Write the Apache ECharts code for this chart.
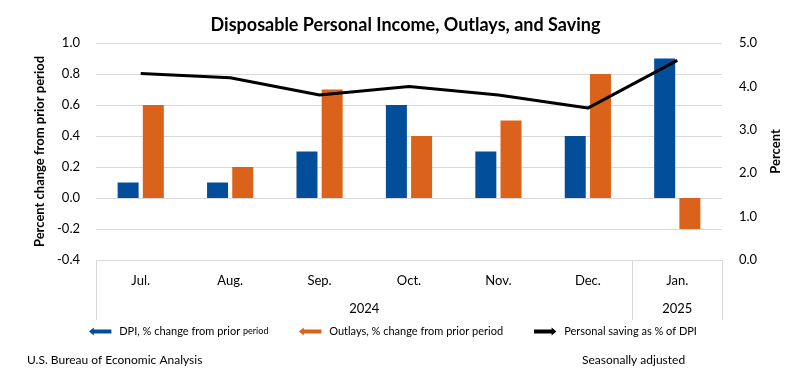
<!DOCTYPE html>
<html><head><meta charset="utf-8">
<script src="https://cdn.jsdelivr.net/npm/echarts@6/dist/echarts.min.js"></script>
<style>html,body{margin:0;padding:0;background:#fff}#c{width:811px;height:390px}</style>
</head><body><div id="c"></div>
<script>
var months = ['Jul.', 'Aug.', 'Sep.', 'Oct.', 'Nov.', 'Dec.', 'Jan.'];
var dpi = [0.1, 0.1, 0.3, 0.6, 0.3, 0.4, 0.9];
var outlays = [0.6, 0.2, 0.7, 0.4, 0.5, 0.8, -0.2];
var saving = [4.3, 4.2, 3.8, 4.0, 3.8, 3.5, 4.6];
var years = [{pos: 3, label: '2024'}, {pos: 6.5, label: '2025'}];
var yearBounds = [0, 6, 7];

var FONT = 'Lato';
var BLUE = '#034E9B', ORANGE = '#DB621B';
var leftArrow = 'path://M0,5 L6,0 L6,2.5 L28,2.5 L28,7.5 L6,7.5 L6,10 Z';
var rightArrow = 'path://M28,5 L22,0 L22,2.5 L0,2.5 L0,7.5 L22,7.5 L22,10 Z';

var chart = echarts.init(document.getElementById('c'));
var yearMap = {};
years.forEach(function (y) { yearMap[y.pos] = y.label; });

chart.setOption({
  animation: false,
  textStyle: {fontFamily: FONT},
  title: [
    {text: 'Disposable Personal Income, Outlays, and Saving', left: 'center', top: 11,
     textStyle: {fontFamily: FONT, fontSize: 18, fontWeight: 'bold', color: '#000'}},
    {text: 'U.S. Bureau of Economic Analysis', left: 22, top: 349,
     textStyle: {fontFamily: FONT, fontSize: 12, fontWeight: 'normal', color: '#000'}},
    {text: 'Seasonally adjusted', left: 577, top: 349,
     textStyle: {fontFamily: FONT, fontSize: 12, fontWeight: 'normal', color: '#000'}}
  ],
  legend: [
    {data: [{name: 'DPI', icon: leftArrow}], left: 84, top: 321, itemWidth: 28, itemHeight: 8, itemGap: 4,
     formatter: function () { return '{a|DPI, % change from prior }{b|period}'; },
     textStyle: {rich: {a: {fontSize: 11, fontFamily: FONT, color: '#000'}, b: {fontSize: 9, fontFamily: FONT, color: '#000'}}}},
    {data: [{name: 'Outlays', icon: leftArrow}], left: 294, top: 321, itemWidth: 28, itemHeight: 8,
     formatter: function () { return 'Outlays, % change from prior period'; },
     textStyle: {fontSize: 11, fontFamily: FONT, color: '#000'}},
    {data: [{name: 'Saving', icon: rightArrow}], left: 529, top: 321, itemWidth: 28, itemHeight: 8,
     formatter: function () { return 'Personal saving as % of DPI'; },
     textStyle: {fontSize: 11, fontFamily: FONT, color: '#000'}}
  ],
  grid: {left: 96, right: 89, top: 43, bottom: 130, containLabel: false},
  xAxis: [
    {type: 'category', data: months, position: 'bottom',
     axisLine: {show: false}, axisTick: {show: false},
     axisLabel: {margin: 14, fontSize: 13, color: '#000', fontFamily: FONT}},
    {type: 'value', min: 0, max: 7, position: 'bottom',
     axisLine: {show: false}, splitLine: {show: false},
     axisTick: {show: true, customValues: yearBounds, length: 60, lineStyle: {color: '#d9d9d9', width: 1}},
     axisLabel: {customValues: years.map(function (y) { return y.pos; }), margin: 42, fontSize: 13, color: '#000', fontFamily: FONT,
       formatter: function (v) { return yearMap[v] || ''; }}}
  ],
  yAxis: [
    {type: 'value', min: -0.4, max: 1.0, interval: 0.2,
     name: 'Percent change from prior period', nameLocation: 'middle', nameGap: 50, nameRotate: 90,
     nameTextStyle: {fontSize: 13, fontWeight: 'bold', color: '#000', fontFamily: FONT},
     axisLine: {show: false}, axisTick: {show: false},
     axisLabel: {margin: 16, fontSize: 13, color: '#000', fontFamily: FONT, formatter: function (v) { return v.toFixed(1); }},
     splitLine: {lineStyle: {color: '#d9d9d9', width: 1}}},
    {type: 'value', min: 0, max: 5, interval: 1, position: 'right',
     name: 'Percent', nameLocation: 'middle', nameGap: 47, nameRotate: 90,
     nameTextStyle: {fontSize: 13, fontWeight: 'bold', color: '#000', fontFamily: FONT},
     axisLine: {show: false}, axisTick: {show: false}, splitLine: {show: false},
     axisLabel: {margin: 17, fontSize: 13, color: '#000', fontFamily: FONT, formatter: function (v) { return v.toFixed(1); }}}
  ],
  series: [
    {name: 'DPI', type: 'bar', data: dpi, barWidth: 21, barGap: '20%', itemStyle: {color: BLUE}},
    {name: 'Outlays', type: 'bar', data: outlays, barWidth: 21, barGap: '20%', itemStyle: {color: ORANGE}},
    {name: 'Saving', type: 'line', yAxisIndex: 1, data: saving, symbol: 'none',
     lineStyle: {color: '#000', width: 3}, itemStyle: {color: '#000'}}
  ]
});
</script>
</body></html>
